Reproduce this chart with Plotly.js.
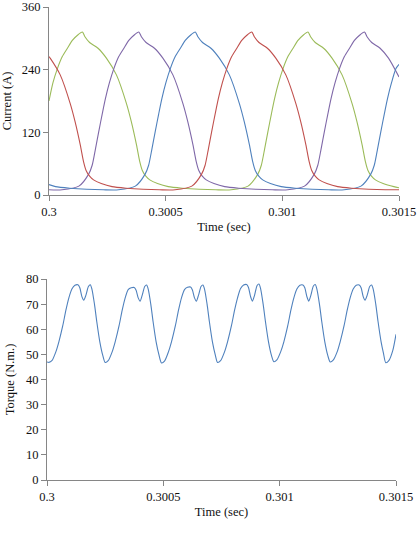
<!DOCTYPE html>
<html>
<head>
<meta charset="utf-8">
<script src="https://cdn.plot.ly/plotly-3.0.1.min.js"></script>
<style>html,body{margin:0;padding:0;background:#fff;}#chart{width:417px;height:534px;}</style>
</head>
<body>
<div id="chart"></div>
<script>
// ---- Phase currents (A) vs time (sec) ----
const greenT = [0.300000,0.300017,0.300036,0.300057,0.300079,0.300100,0.300122,0.300143,0.300154,0.300174,0.300210,0.300246,0.300289,0.300332,0.300353,0.300375,0.300389,0.300400,0.300415,0.300432,0.300465,0.300511,0.300572,0.300644,0.300715,
  0.300781,0.300853,0.300895,0.300910,0.300924,0.300938,0.300953,0.300967,0.300984,0.301003,0.301024,0.301046,0.301067,0.301089,0.301110,0.301121,0.301141,0.301177,0.301213,0.301256,0.301299,0.301320,0.301342,0.301356,0.301367,0.301382,0.301399,0.301432,0.301478,0.301500];
const greenI = [180,215,242,265,281,296,306,312,303,292,281,262,230,175,140,96,64,47,36,29,22,16,13,11,10,
  10,17,40,57,88,121,155,185,215,242,265,281,296,306,312,303,292,281,262,230,175,140,96,64,47,36,29,22,16,14];

const purpleT = [0.300000,0.300056,0.300128,0.300170,0.300185,0.300199,0.300213,0.300228,0.300242,0.300259,0.300278,0.300299,0.300321,0.300342,0.300364,0.300385,0.300396,0.300416,0.300452,0.300488,0.300531,0.300574,0.300595,0.300617,0.300631,0.300642,0.300657,0.300674,0.300707,0.300753,0.300814,0.300886,0.300957,
  0.301023,0.301095,0.301137,0.301152,0.301166,0.301180,0.301195,0.301209,0.301226,0.301245,0.301266,0.301288,0.301309,0.301331,0.301352,0.301363,0.301383,0.301419,0.301455,0.301500];
const purpleI = [10,10,17,40,57,88,121,155,185,215,242,265,281,296,306,312,303,292,281,262,230,175,140,96,64,47,36,29,22,16,13,11,10,
  10,17,40,57,88,121,155,185,215,242,265,281,296,306,312,303,292,281,262,226];

const blueT = [0.300000,0.300028,0.300089,0.300161,0.300232,0.300298,0.300370,0.300412,0.300427,0.300441,0.300455,0.300470,0.300484,0.300501,0.300520,0.300541,0.300563,0.300584,0.300606,0.300627,0.300638,0.300658,0.300694,0.300730,0.300773,0.300816,0.300837,0.300859,0.300873,0.300884,0.300899,0.300916,0.300949,0.300995,0.301056,0.301128,0.301199,
  0.301265,0.301337,0.301379,0.301394,0.301408,0.301422,0.301437,0.301451,0.301468,0.301487,0.301500];
const blueI = [20,16,13,11,10,10,17,40,57,88,121,155,185,215,242,265,281,296,306,312,303,292,281,262,230,175,140,96,64,47,36,29,22,16,13,11,10,
  10,17,40,57,88,121,155,185,215,242,250];

const redT = [0.300000,0.300005,0.300048,0.300091,0.300112,0.300134,0.300148,0.300159,0.300174,0.300191,0.300224,0.300270,0.300331,0.300403,0.300474,
  0.300540,0.300612,0.300654,0.300669,0.300683,0.300697,0.300712,0.300726,0.300743,0.300762,0.300783,0.300805,0.300826,0.300848,0.300869,0.300880,0.300900,0.300936,0.300972,0.301015,0.301058,0.301079,0.301101,0.301115,0.301126,0.301141,0.301158,0.301191,0.301237,0.301298,0.301370,0.301441,0.301500];
const redI = [265,262,230,175,140,96,64,47,36,29,22,16,13,11,10,
  10,17,40,57,88,121,155,185,215,242,265,281,296,306,312,303,292,281,262,230,175,140,96,64,47,36,29,22,16,13,11,10,10];

// ---- Torque (N.m.) vs time (sec) ----
const torqueT = [0.300000,0.300008,0.300021,0.300038,0.300051,0.300068,0.300081,0.300094,0.300107,0.300120,0.300133,0.300141,0.300150,0.300158,0.300167,0.300178,0.300186,0.300193,0.300204,0.300214,0.300227,0.300240,
  0.300250,0.300263,0.300280,0.300293,0.300310,0.300323,0.300336,0.300349,0.300362,0.300375,0.300383,0.300392,0.300400,0.300409,0.300420,0.300428,0.300435,0.300446,0.300456,0.300469,0.300482,
  0.300492,0.300505,0.300522,0.300535,0.300552,0.300565,0.300578,0.300591,0.300604,0.300617,0.300625,0.300634,0.300642,0.300651,0.300662,0.300670,0.300677,0.300688,0.300698,0.300711,0.300724,
  0.300733,0.300746,0.300763,0.300776,0.300793,0.300806,0.300819,0.300832,0.300845,0.300858,0.300866,0.300875,0.300883,0.300892,0.300903,0.300911,0.300918,0.300929,0.300939,0.300952,0.300965,
  0.300975,0.300988,0.301005,0.301018,0.301035,0.301048,0.301061,0.301074,0.301087,0.301100,0.301108,0.301117,0.301125,0.301134,0.301145,0.301153,0.301160,0.301171,0.301181,0.301194,0.301207,
  0.301217,0.301230,0.301247,0.301260,0.301277,0.301290,0.301303,0.301316,0.301329,0.301342,0.301350,0.301359,0.301367,0.301376,0.301387,0.301395,0.301402,0.301413,0.301423,0.301436,0.301446,
  0.301456,0.301469,0.301486,0.301500];
const torqueV = [47.0,46.8,47.5,51,55,61.5,67.5,72.5,76,77.5,77.7,76.5,73,71.6,73.5,77,77.7,76,70,63,55,49.5,
  46.8,47.5,51,55,61.5,67.5,72.5,75.8,76.5,76.6,75.5,72.5,71.2,73.5,77,77.6,76,70,63,55,49.5,
  46.6,47.3,51,55,61.5,67.5,72.5,75.8,76.7,76.8,75.6,72.5,71.2,73.5,77,77.6,76,70,63,55,49.5,
  46.8,47.5,51,55,61.5,67.5,72.5,76.2,77.6,77.8,76.6,73,71.2,73.5,77.4,78,76.2,70,63,55,49.5,
  47.1,47.8,51.2,55,61.5,67.5,72.5,76,77.5,77.6,76.5,73,71.2,73.5,77.2,77.8,76,70,63,55,49.5,
  47,47.7,51,55,61.5,67.5,72.5,76,77.5,77.6,76.5,73,71.6,73.5,77,77.6,76,70,63,55,50.5,
  46.7,47.5,51.5,58];

const xTicks = [0.3, 0.3005, 0.301, 0.3015];
const xTickText = ['0.3', '0.3005', '0.301', '0.3015'];
const currentTicks = [0, 120, 240, 360];
const torqueTicks = [0, 10, 20, 30, 40, 50, 60, 70, 80];

const W = 417, H = 534;
const font = {family: '"Liberation Serif", "Times New Roman", serif', size: 12.5, color: '#111'};
const lineW = 1.1;
const mk = (x, y, color, xa, ya) => ({x, y, type: 'scatter', mode: 'lines', xaxis: xa, yaxis: ya,
  line: {color, width: lineW, shape: 'spline', smoothing: 0.7}, hoverinfo: 'skip', showlegend: false});

const data = [
  mk(greenT, greenI, '#9BBB59', 'x', 'y'),
  mk(purpleT, purpleI, '#7F68A8', 'x', 'y'),
  mk(blueT, blueI, '#4F81BD', 'x', 'y'),
  mk(redT, redI, '#C0504D', 'x', 'y'),
  mk(torqueT, torqueV, '#4F81BD', 'x2', 'y2')
];

const axBase = {showline: true, linecolor: '#868686', linewidth: 1, ticks: 'outside', ticklen: 5,
  tickcolor: '#868686', showgrid: false, zeroline: false, tickfont: font, fixedrange: true};

const layout = {
  width: W, height: H,
  margin: {l: 0, r: 0, t: 0, b: 0},
  paper_bgcolor: '#fff', plot_bgcolor: '#fff',
  font: font,
  showlegend: false,
  xaxis: Object.assign({}, axBase, {domain: [49/W, 399/W], range: [0.3, 0.3015], tickvals: xTicks, ticktext: xTickText,
    anchor: 'y', title: {text: 'Time (sec)', font: font, standoff: 4}}),
  yaxis: Object.assign({}, axBase, {domain: [(H-195)/H, (H-7)/H], range: [0, 360], tickvals: currentTicks,
    anchor: 'x', title: {text: 'Current (A)', font: font, standoff: 8}}),
  xaxis2: Object.assign({}, axBase, {domain: [47/W, 396/W], range: [0.3, 0.3015], tickvals: xTicks, ticktext: xTickText,
    anchor: 'y2', title: {text: 'Time (sec)', font: font, standoff: 4}}),
  yaxis2: Object.assign({}, axBase, {domain: [(H-480)/H, (H-279)/H], range: [0, 80], tickvals: torqueTicks,
    anchor: 'x2', title: {text: 'Torque (N.m.)', font: font, standoff: 8}})
};

Plotly.newPlot('chart', data, layout, {staticPlot: true, displayModeBar: false});
</script>
</body>
</html>
